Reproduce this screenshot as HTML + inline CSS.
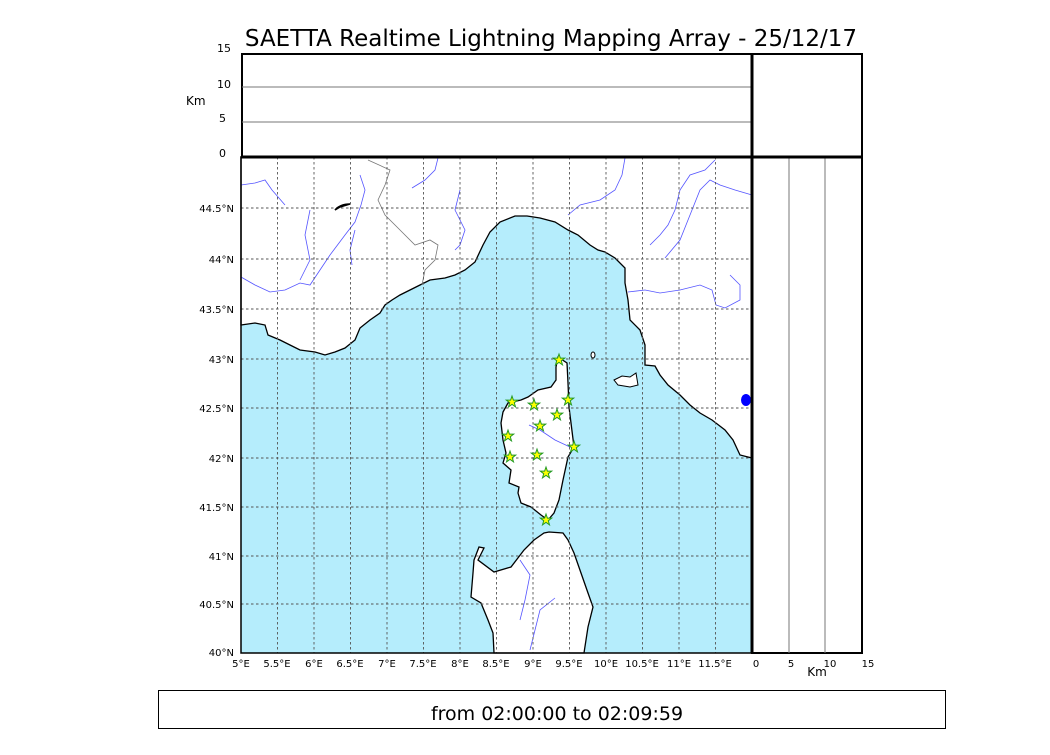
<!DOCTYPE html>
<html><head><meta charset="utf-8"><style>
body{margin:0;background:#fff;width:1050px;height:750px;overflow:hidden;font-family:"Liberation Sans","DejaVu Sans",sans-serif}
</style></head><body>
<svg width="1050" height="750" xmlns="http://www.w3.org/2000/svg" font-family="DejaVu Sans, Liberation Sans, sans-serif">
<text x="551" y="46" font-size="23" text-anchor="middle">SAETTA Realtime Lightning Mapping Array - 25/12/17</text>
<rect x="242" y="54" width="620" height="103" fill="#fff" stroke="#000" stroke-width="2"/>
<line x1="242" y1="87" x2="752" y2="87" stroke="#777" stroke-width="1"/>
<line x1="242" y1="122" x2="752" y2="122" stroke="#777" stroke-width="1"/>
<g font-size="11" text-anchor="end"><text x="231" y="52">15</text><text x="231" y="88">10</text><text x="226" y="122">5</text><text x="226" y="157">0</text></g>
<text x="186" y="105" font-size="12">Km</text>
<rect x="241" y="157" width="511" height="496" fill="#b5edfc"/>
<polygon fill="#fff" stroke="#000" stroke-width="1.3" points="241,157 752,157 752,458 740,455 733,440 725,430 712,420 700,413 690,405 680,395 668,385 660,375 655,366 645,365 645,345 640,330 630,320 628,300 625,283 625,268 615,258 605,252 598,250 590,245 578,235 568,230 555,222 540,218 527,216 515,216 500,222 490,232 483,245 475,262 465,270 455,275 445,278 430,280 420,285 410,290 400,295 392,300 385,305 380,313 370,320 360,328 355,340 345,348 335,352 325,355 315,352 300,350 290,345 280,340 268,335 265,325 255,323 241,325"/>
<polygon fill="#fff" stroke="#000" stroke-width="1.3" points="558,357 567,363 568,383 569,407 571,423 574,447 568,457 563,480 559,500 554,513 548,520 541,515 531,507 521,503 518,493 519,487 509,483 511,470 503,463 506,453 503,440 501,423 503,412 508,403 521,400 528,397 538,390 551,387 556,380 556,367"/>
<polygon fill="#fff" stroke="#000" stroke-width="1.3" points="549,532 563,533 568,540 574,553 581,573 588,593 593,607 588,627 584,653 494,653 493,633 488,620 481,603 471,597 473,573 474,560 479,547 484,548 478,560 494,572 511,567 524,550 534,540 544,533"/>
<polygon fill="#fff" stroke="#000" stroke-width="1" points="614,380 622,376 630,377 636,373 638,385 630,387 618,385"/>
<ellipse cx="593" cy="355" rx="2" ry="3" fill="#fff" stroke="#000"/>
<g fill="none" stroke="#5555ff" stroke-width="0.8">
<polyline points="241,185 255,183 265,180 272,190 285,205"/>
<polyline points="241,277 255,285 270,292 285,290 300,283 310,285 320,270 330,255 345,235 355,222 361,205 365,190 360,175"/>
<polyline points="310,210 305,235 310,260 300,280"/>
<polyline points="355,230 350,250 352,265"/>
<polyline points="412,188 425,180 435,170 438,158"/>
<polyline points="460,190 455,210 465,230 460,245 455,250"/>
<polyline points="568,215 580,205 600,200 615,190 622,175 625,158"/>
<polyline points="650,245 660,235 668,225 675,210 680,190 690,175 705,170 715,160"/>
<polyline points="665,258 680,240 690,215 700,190 710,180 720,185 735,190 752,195"/>
<polyline points="628,292 645,290 660,293 680,290 700,285 712,290 716,305 725,308 740,300 740,285 730,275"/>
<polyline points="529,425 540,430 555,440 570,447"/>
<polyline points="520,560 530,575 525,600 520,620"/>
<polyline points="555,598 540,610 535,630 530,650"/>
</g>
<g fill="none" stroke="#777" stroke-width="0.8">
<polyline points="368,160 390,170 385,185 378,200 385,215 398,228 415,245 430,240 438,245 435,260 425,270 422,285"/>
</g>
<g stroke="#555" stroke-width="0.9" stroke-dasharray="2.5,2.5">
<line x1="277.5" y1="157" x2="277.5" y2="653"/><line x1="314" y1="157" x2="314" y2="653"/><line x1="350.5" y1="157" x2="350.5" y2="653"/><line x1="387" y1="157" x2="387" y2="653"/><line x1="423.5" y1="157" x2="423.5" y2="653"/><line x1="460" y1="157" x2="460" y2="653"/><line x1="496.5" y1="157" x2="496.5" y2="653"/><line x1="533" y1="157" x2="533" y2="653"/><line x1="569.5" y1="157" x2="569.5" y2="653"/><line x1="606" y1="157" x2="606" y2="653"/><line x1="642.5" y1="157" x2="642.5" y2="653"/><line x1="679" y1="157" x2="679" y2="653"/><line x1="715.5" y1="157" x2="715.5" y2="653"/>
<line x1="241" y1="208" x2="752" y2="208"/><line x1="241" y1="259" x2="752" y2="259"/><line x1="241" y1="309" x2="752" y2="309"/><line x1="241" y1="359" x2="752" y2="359"/><line x1="241" y1="408" x2="752" y2="408"/><line x1="241" y1="458" x2="752" y2="458"/><line x1="241" y1="507" x2="752" y2="507"/><line x1="241" y1="556" x2="752" y2="556"/><line x1="241" y1="604" x2="752" y2="604"/>
</g>
<path d="M335,210 Q340,204 350,204 L340,207 Z" fill="#000033" stroke="#000" stroke-width="1.5"/>
<ellipse cx="746" cy="400" rx="5" ry="6" fill="#0000ff"/>
<defs><polygon id="st" points="0,-6 1.4,-1.9 5.7,-1.9 2.3,0.7 3.5,4.9 0,2.4 -3.5,4.9 -2.3,0.7 -5.7,-1.9 -1.4,-1.9" fill="#ffff00" stroke="#229922" stroke-width="1"/></defs>
<use href="#st" x="559" y="360"/><use href="#st" x="512" y="402"/><use href="#st" x="534" y="405"/><use href="#st" x="568" y="400"/><use href="#st" x="557" y="415"/><use href="#st" x="540" y="426"/><use href="#st" x="508" y="436"/><use href="#st" x="574" y="447"/><use href="#st" x="537" y="455"/><use href="#st" x="510" y="457"/><use href="#st" x="546" y="473"/><use href="#st" x="546" y="520"/>
<rect x="241" y="157" width="511" height="496" fill="none" stroke="#000" stroke-width="1.5"/>
<rect x="752" y="157" width="110" height="496" fill="none" stroke="#000" stroke-width="2"/>
<line x1="789" y1="157" x2="789" y2="653" stroke="#777"/>
<line x1="825" y1="157" x2="825" y2="653" stroke="#777"/>
<line x1="752" y1="54" x2="752" y2="653" stroke="#000" stroke-width="3"/>
<line x1="241" y1="157" x2="862" y2="157" stroke="#000" stroke-width="3"/>
<g font-size="10" text-anchor="end">
<text x="234" y="212">44.5°N</text><text x="234" y="263">44°N</text><text x="234" y="313">43.5°N</text><text x="234" y="363">43°N</text><text x="234" y="412">42.5°N</text><text x="234" y="462">42°N</text><text x="234" y="511">41.5°N</text><text x="234" y="560">41°N</text><text x="234" y="608">40.5°N</text><text x="234" y="656">40°N</text>
</g>
<g font-size="10" text-anchor="middle">
<text x="241" y="667">5°E</text><text x="277" y="667">5.5°E</text><text x="314" y="667">6°E</text><text x="350" y="667">6.5°E</text><text x="387" y="667">7°E</text><text x="423" y="667">7.5°E</text><text x="460" y="667">8°E</text><text x="496" y="667">8.5°E</text><text x="533" y="667">9°E</text><text x="569" y="667">9.5°E</text><text x="606" y="667">10°E</text><text x="642" y="667">10.5°E</text><text x="679" y="667">11°E</text><text x="715" y="667">11.5°E</text>
<text x="756" y="667">0</text><text x="791" y="667">5</text><text x="830" y="667">10</text><text x="868" y="667">15</text>
</g>
<text x="817" y="676" font-size="12" text-anchor="middle">Km</text>
<rect x="158.5" y="690.5" width="787" height="38" fill="#fff" stroke="#000" stroke-width="1"/>
<text x="557" y="720" font-size="19" text-anchor="middle">from 02:00:00 to 02:09:59</text>
</svg>
</body></html>
